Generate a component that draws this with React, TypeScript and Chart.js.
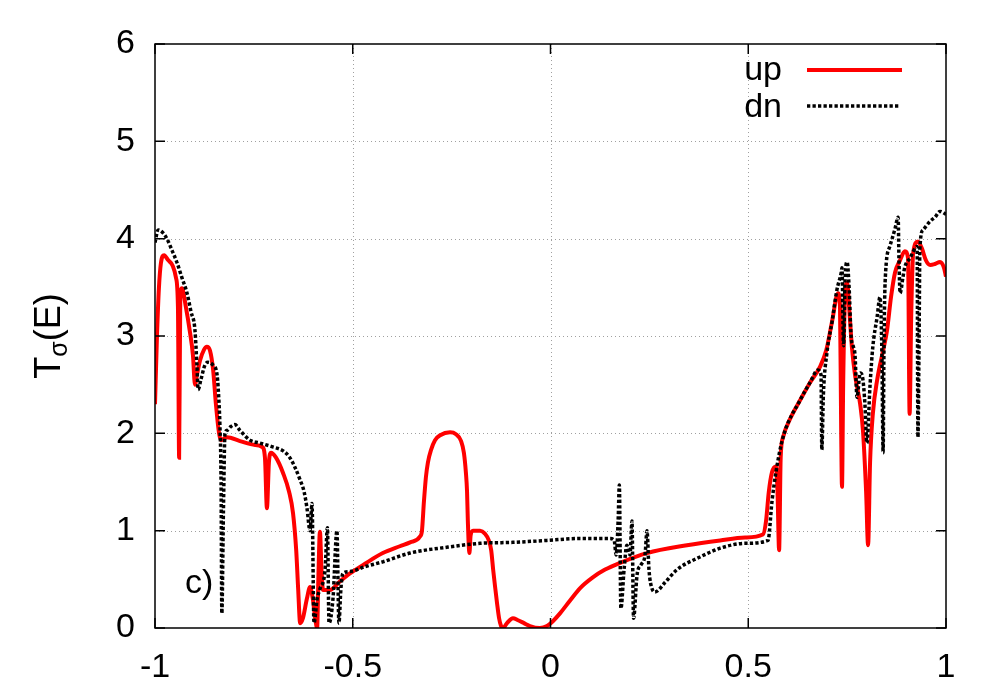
import React, { useEffect, useRef } from "react";
import { Chart, registerables } from "chart.js";

Chart.register(...registerables);

const FONT = "'Liberation Sans', Arial, Helvetica, sans-serif";

// x tick values and labels
const xTickValues = [-1, -0.5, 0, 0.5, 1];
const xTickLabels = ["-1", "-0.5", "0", "0.5", "1"];
const yTickValues = [0, 1, 2, 3, 4, 5, 6];
const yTickLabels = ["0", "1", "2", "3", "4", "5", "6"];

const seriesNames = ["up", "dn"];
const panelLabel = "c)";

// spin-up transmission
const upX = [
  -1.0, -0.995, -0.99, -0.985, -0.977, -0.967, -0.955, -0.947, -0.942, -0.939, -0.936, -0.932,
  -0.922, -0.912, -0.904, -0.899, -0.894, -0.886, -0.876, -0.869, -0.861, -0.853, -0.846, -0.838,
  -0.833, -0.818, -0.785, -0.747, -0.729, -0.722, -0.717, -0.712, -0.707, -0.694, -0.676, -0.661,
  -0.651, -0.643, -0.638, -0.633, -0.626, -0.616, -0.608, -0.601, -0.595, -0.59, -0.587, -0.583,
  -0.579, -0.575, -0.558, -0.532, -0.507, -0.469, -0.424, -0.381, -0.355, -0.33, -0.325, -0.32,
  -0.315, -0.31, -0.302, -0.292, -0.279, -0.254, -0.239, -0.226, -0.219, -0.214, -0.211, -0.209,
  -0.205, -0.202, -0.196, -0.178, -0.166, -0.156, -0.15, -0.145, -0.14, -0.135, -0.13, -0.125,
  -0.12, -0.11, -0.095, -0.082, -0.067, -0.052, -0.027, -0.009, 0.006, 0.024, 0.049, 0.075,
  0.107, 0.138, 0.176, 0.244, 0.345, 0.429, 0.492, 0.537, 0.545, 0.552, 0.56, 0.57,
  0.574, 0.578, 0.582, 0.588, 0.606, 0.631, 0.656, 0.681, 0.697, 0.712, 0.727, 0.732,
  0.735, 0.737, 0.74, 0.745, 0.75, 0.755, 0.762, 0.77, 0.775, 0.783, 0.79, 0.798,
  0.803, 0.808, 0.815, 0.826, 0.841, 0.851, 0.861, 0.871, 0.884, 0.896, 0.904, 0.908,
  0.912, 0.917, 0.929, 0.939, 0.949, 0.96, 0.972, 0.985, 0.995, 1.0,
];
const upY = [
  2.3, 3.0, 3.5, 3.75, 3.83, 3.78, 3.72, 3.6, 3.3, 1.75, 3.45, 3.49,
  3.3, 3.05, 2.8, 2.5, 2.6, 2.75, 2.86, 2.89, 2.85, 2.65, 2.3, 2.0,
  1.93, 1.96, 1.92, 1.88, 1.86, 1.75, 1.23, 1.7, 1.8, 1.75, 1.59, 1.4,
  1.18, 0.8, 0.4, 0.05, 0.1, 0.3, 0.42, 0.3, 0.1, 0.0, 0.5, 0.99,
  0.6, 0.39, 0.39, 0.48, 0.56, 0.66, 0.77, 0.84, 0.88, 0.94, 1.0, 1.3,
  1.55, 1.7, 1.83, 1.93, 1.98, 2.01, 1.99, 1.92, 1.8, 1.6, 1.4, 1.1,
  0.77, 0.95, 1.0, 1.0, 0.97, 0.9, 0.8, 0.6, 0.42, 0.25, 0.1, 0.02,
  0.0, 0.05, 0.1, 0.08, 0.05, 0.02, 0.0, 0.02, 0.07, 0.15, 0.28, 0.41,
  0.52, 0.6, 0.67, 0.77, 0.85, 0.9, 0.93, 0.96, 1.1, 1.4, 1.6, 1.66,
  1.4, 0.8, 1.75, 1.96, 2.15, 2.34, 2.52, 2.68, 2.85, 3.15, 3.44, 3.3,
  2.0, 1.45, 2.5, 3.45, 3.55, 3.3, 2.89, 2.6, 2.48, 2.3, 2.03, 1.4,
  0.85, 1.7, 2.2, 2.55, 2.85, 3.06, 3.4, 3.65, 3.78, 3.87, 3.8, 2.2,
  3.2, 3.85, 3.97, 3.9, 3.78, 3.73, 3.74, 3.76, 3.7, 3.61,
];

// spin-down transmission
const dnX = [
  -1.0, -0.992, -0.98, -0.97, -0.957, -0.944, -0.932, -0.919, -0.909, -0.899, -0.894, -0.891,
  -0.884, -0.874, -0.866, -0.853, -0.843, -0.838, -0.836, -0.833, -0.831, -0.827, -0.823, -0.818,
  -0.808, -0.798, -0.785, -0.76, -0.735, -0.702, -0.676, -0.659, -0.646, -0.633, -0.623, -0.616,
  -0.608, -0.603, -0.598, -0.59, -0.583, -0.57, -0.564, -0.56, -0.55, -0.54, -0.535, -0.53,
  -0.525, -0.507, -0.469, -0.424, -0.355, -0.262, -0.178, -0.095, -0.009, 0.075, 0.15, 0.161,
  0.166, 0.171, 0.174, 0.178, 0.186, 0.193, 0.201, 0.206, 0.21, 0.219, 0.229, 0.239,
  0.244, 0.249, 0.257, 0.264, 0.29, 0.32, 0.378, 0.429, 0.492, 0.55, 0.56, 0.57,
  0.588, 0.631, 0.656, 0.676, 0.684, 0.686, 0.69, 0.699, 0.712, 0.724, 0.735, 0.737,
  0.741, 0.745, 0.75, 0.755, 0.76, 0.765, 0.77, 0.775, 0.783, 0.79, 0.795, 0.8,
  0.808, 0.815, 0.826, 0.833, 0.838, 0.841, 0.843, 0.846, 0.858, 0.871, 0.879, 0.881,
  0.884, 0.891, 0.896, 0.909, 0.927, 0.929, 0.932, 0.934, 0.942, 0.96, 0.972, 0.985, 1.0,
];
const dnY = [
  3.96, 4.09, 4.06, 4.0, 3.88, 3.75, 3.6, 3.44, 3.25, 3.06, 2.7, 2.45,
  2.55, 2.7, 2.73, 2.7, 2.6, 2.3, 2.1, 1.5, 0.15, 1.2, 2.0, 2.03,
  2.07, 2.09, 2.03, 1.93, 1.9, 1.86, 1.82, 1.75, 1.65, 1.52, 1.4, 1.24,
  1.0, 1.28, 0.05, 0.3, 0.4, 0.6, 1.03, 0.05, 0.3, 1.0, 0.05, 0.4,
  0.56, 0.58, 0.63, 0.68, 0.77, 0.83, 0.87, 0.88, 0.9, 0.92, 0.92, 0.9,
  0.75, 1.1, 1.47, 0.2, 0.6, 0.85, 0.75, 1.1, 0.1, 0.55, 0.65, 0.75,
  1.0, 0.6, 0.4, 0.37, 0.47, 0.6, 0.73, 0.82, 0.87, 0.9, 1.3, 1.6,
  1.96, 2.34, 2.52, 2.65, 2.6, 1.83, 2.4, 2.83, 3.15, 3.47, 3.65, 3.7,
  2.9, 3.6, 3.76, 3.5, 3.0, 2.9, 2.8, 2.37, 2.62, 2.55, 2.3, 1.9,
  2.5, 2.89, 3.2, 3.4, 2.8, 1.8, 2.8, 3.55, 3.92, 4.1, 4.22, 3.8,
  3.44, 3.6, 3.71, 3.8, 3.92, 1.96, 3.0, 3.9, 4.09, 4.18, 4.22, 4.28, 4.25,
];

const toPoints = (xs: number[], ys: number[]) => xs.map((x, i) => ({ x, y: ys[i] }));

const decorPlugin = {
  id: "gnuplotDecor",
  beforeDatasetsDraw(chart: any) {
    const { ctx, chartArea: a, scales } = chart;
    const xs = scales.x;
    const ys = scales.y;
    ctx.save();
    ctx.strokeStyle = "#a0a0a0";
    ctx.lineWidth = 1;
    ctx.setLineDash([1, 3]);
    xTickValues.slice(1, -1).forEach((v) => {
      const p = Math.round(xs.getPixelForValue(v)) + 0.5;
      ctx.beginPath();
      ctx.moveTo(p, a.top);
      ctx.lineTo(p, a.bottom);
      ctx.stroke();
    });
    yTickValues.slice(1, -1).forEach((v) => {
      const p = Math.round(ys.getPixelForValue(v)) + 0.5;
      ctx.beginPath();
      ctx.moveTo(a.left, p);
      ctx.lineTo(a.right, p);
      ctx.stroke();
    });
    ctx.restore();
  },
  afterDatasetsDraw(chart: any) {
    const { ctx, chartArea: a, scales } = chart;
    const xs = scales.x;
    const ys = scales.y;
    ctx.save();
    // frame
    ctx.strokeStyle = "#000";
    ctx.lineWidth = 1.5;
    ctx.setLineDash([]);
    ctx.strokeRect(a.left, a.top, a.right - a.left, a.bottom - a.top);
    // inward ticks on all sides
    const tl = 10;
    ctx.lineWidth = 1.5;
    xTickValues.forEach((v) => {
      const p = xs.getPixelForValue(v);
      ctx.beginPath();
      ctx.moveTo(p, a.bottom);
      ctx.lineTo(p, a.bottom - tl);
      ctx.moveTo(p, a.top);
      ctx.lineTo(p, a.top + tl);
      ctx.stroke();
    });
    yTickValues.forEach((v) => {
      const p = ys.getPixelForValue(v);
      ctx.beginPath();
      ctx.moveTo(a.left, p);
      ctx.lineTo(a.left + tl, p);
      ctx.moveTo(a.right, p);
      ctx.lineTo(a.right - tl, p);
      ctx.stroke();
    });

    // legend (gnuplot style: text right aligned, sample on right)
    ctx.fillStyle = "#000";
    ctx.font = `34px ${FONT}`;
    ctx.textAlign = "right";
    ctx.textBaseline = "alphabetic";
    const textRight = a.right - 164;
    const sampleL = a.right - 139;
    const sampleR = a.right - 44;
    const row1 = a.top + 36;
    const row2 = a.top + 73;
    ctx.fillText(seriesNames[0], textRight, row1);
    ctx.fillText(seriesNames[1], textRight, row2);
    ctx.strokeStyle = "#ff0000";
    ctx.lineWidth = 4;
    ctx.beginPath();
    ctx.moveTo(sampleL, row1 - 10);
    ctx.lineTo(sampleR, row1 - 10);
    ctx.stroke();
    ctx.strokeStyle = "#000";
    ctx.lineWidth = 3.5;
    ctx.lineCap = "butt";
    ctx.setLineDash([3.3, 2.2]);
    ctx.beginPath();
    ctx.moveTo(sampleL, row2 - 11);
    ctx.lineTo(sampleR - 2, row2 - 11);
    ctx.stroke();
    ctx.setLineDash([]);

    // panel label
    ctx.textAlign = "left";
    ctx.font = `34px ${FONT}`;
    ctx.fillText(panelLabel, a.left + 30, a.bottom - 35);

    // y axis title T_sigma(E), rotated
    ctx.save();
    const cx = 60;
    const cy = (a.top + a.bottom) / 2;
    ctx.translate(cx, cy);
    ctx.rotate(-Math.PI / 2);
    const big = `36px ${FONT}`;
    const small = `25px ${FONT}`;
    ctx.font = big;
    const wT = ctx.measureText("T").width;
    const wE = ctx.measureText("(E)").width;
    ctx.font = small;
    const wS = ctx.measureText("σ").width;
    const total = wT + wS + wE;
    let x0 = -total / 2;
    ctx.textAlign = "left";
    ctx.font = big;
    ctx.fillText("T", x0, 0);
    x0 += wT;
    ctx.font = small;
    ctx.fillText("σ", x0, 7);
    x0 += wS;
    ctx.font = big;
    ctx.fillText("(E)", x0, 0);
    ctx.restore();

    ctx.restore();
  },
};

export default function App() {
  const ref = useRef<HTMLCanvasElement>(null);
  useEffect(() => {
    if (!ref.current) return;
    const chart = new Chart(ref.current, {
      type: "line",
      data: {
        datasets: [
          {
            label: seriesNames[0],
            data: toPoints(upX, upY),
            borderColor: "#ff0000",
            backgroundColor: "#ff0000",
            borderWidth: 4,
            pointRadius: 0,
            cubicInterpolationMode: "monotone",
            order: 1,
          },
          {
            label: seriesNames[1],
            data: toPoints(dnX, dnY),
            borderColor: "#000000",
            backgroundColor: "#000000",
            borderWidth: 3.5,
            borderDash: [3.3, 2.2],
            borderCapStyle: "butt",
            pointRadius: 0,
            cubicInterpolationMode: "monotone",
            order: 0,
          },
        ],
      },
      options: {
        animation: false,
        responsive: false,
        devicePixelRatio: 1,
        layout: { padding: { top: 44, right: 54, left: 0, bottom: 0 } },
        plugins: { legend: { display: false }, tooltip: { enabled: false } },
        scales: {
          x: {
            type: "linear",
            min: -1,
            max: 1,
            afterFit: (s: any) => {
              s.height = 72;
            },
            afterBuildTicks: (s: any) => {
              s.ticks = xTickValues.map((v) => ({ value: v }));
            },
            grid: { display: false, drawTicks: false },
            border: { display: false },
            ticks: {
              autoSkip: false,
              maxRotation: 0,
              padding: 19,
              color: "#000",
              font: { family: FONT, size: 34 },
              callback: (v: any) => {
                const i = xTickValues.indexOf(Number(v));
                return i >= 0 ? xTickLabels[i] : "";
              },
            },
          },
          y: {
            type: "linear",
            min: 0,
            max: 6,
            afterFit: (s: any) => {
              s.width = 155;
            },
            afterBuildTicks: (s: any) => {
              s.ticks = yTickValues.map((v) => ({ value: v }));
            },
            grid: { display: false, drawTicks: false },
            border: { display: false },
            ticks: {
              autoSkip: false,
              padding: 20,
              color: "#000",
              font: { family: FONT, size: 34 },
              callback: (v: any) => {
                const i = yTickValues.indexOf(Number(v));
                return i >= 0 ? yTickLabels[i] : "";
              },
            },
          },
        },
      },
      plugins: [decorPlugin],
    } as any);
    return () => chart.destroy();
  }, []);
  return (
    <div style={{ position: "absolute", left: 0, top: 0, width: 1000, height: 700, background: "#fff" }}>
      <canvas ref={ref} width={1000} height={700} style={{ display: "block", width: 1000, height: 700 }} />
    </div>
  );
}
